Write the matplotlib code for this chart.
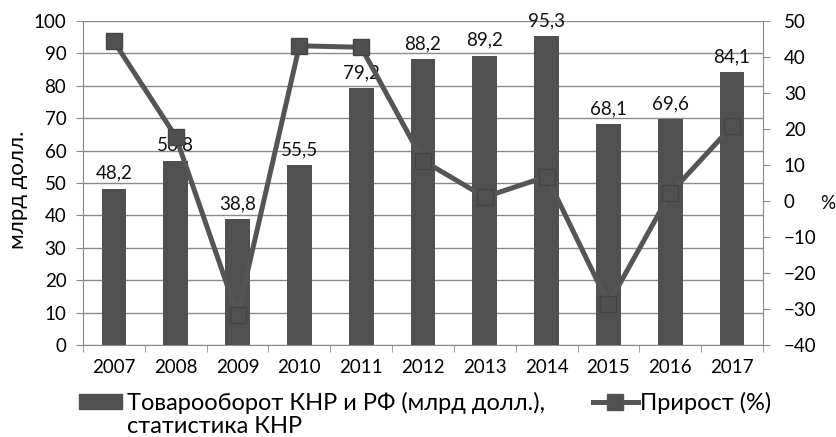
import numpy as np
import matplotlib
matplotlib.use("Agg")
import matplotlib.pyplot as plt
from matplotlib.lines import Line2D
from matplotlib.patches import Patch

years = ["2007", "2008", "2009", "2010", "2011", "2012", "2013", "2014", "2015", "2016", "2017"]
trade = [48.2, 56.8, 38.8, 55.5, 79.2, 88.2, 89.2, 95.3, 68.1, 69.6, 84.1]
growth = [44.3, 17.9, -31.7, 43.1, 42.7, 11.2, 1.1, 6.8, -28.6, 2.2, 20.8]

bar_label = ["Товарооборот КНР и РФ (млрд долл.),", "статистика КНР"]
line_label = "Прирост (%)"

plt.rcParams['font.family'] = ['Lato', 'DejaVu Sans']
fs = 13.5
lfs = 17
dark = "#505050"
grid_c = "#8a8a8a"

fig = plt.figure(figsize=(8.37, 4.37), dpi=100)
ax = fig.add_axes([0.0992, 0.2105, 0.8124, 0.7415])
x = np.arange(len(years))

ax.set_axisbelow(True)
ax.bar(x, trade, width=0.4, color=dark, zorder=2)
for xi, v in zip(x, trade):
    ax.text(xi, v + 2.2, f"{v:.1f}".replace(".", ","), ha="center", va="bottom",
            fontsize=fs, color="#111111", zorder=5)

ax.set_ylim(0, 100)
ax.set_yticks(np.arange(0, 101, 10))
ax.set_xlim(-0.5, len(years) - 0.5)
ax.set_xticks(x)
ax.set_xticklabels(years)
ax.set_xticks(np.arange(-0.5, len(years), 1), minor=True)
ax.tick_params(axis="x", which="major", length=0, labelsize=fs, pad=10)
ax.tick_params(axis="x", which="minor", length=5, color=grid_c, direction="out")
ax.tick_params(axis="y", length=5, color=grid_c, labelsize=fs, pad=7)
ax.yaxis.grid(True, color=grid_c, linewidth=1)
for s in ["top", "right"]:
    ax.spines[s].set_visible(False)
ax.spines["left"].set_color(grid_c)
ax.spines["bottom"].set_color(grid_c)
ax.set_ylabel("млрд долл.", fontsize=16)
ax.yaxis.set_label_coords(-0.081, 0.48)

ax2 = ax.twinx()
ax2.plot(x, growth, color="#555555", linewidth=3.6, marker="s", markersize=12,
         markerfacecolor="#505050", markeredgecolor="#444444", zorder=4)
ax2.set_ylim(-40, 50)
ax2.set_yticks(np.arange(-40, 51, 10))
ax2.tick_params(axis="y", length=5, color=grid_c, labelsize=fs, pad=10)
for s in ["top", "left", "bottom"]:
    ax2.spines[s].set_visible(False)
ax2.spines["right"].set_color(grid_c)
fig.text(0.989, 0.535, "%", fontsize=fs, ha="center", va="center")

# legend, drawn as two pieces so the bar swatch sits on the first text line
leg1 = fig.legend([Patch(facecolor=dark, edgecolor=dark)], [bar_label[0]],
                  loc="center left", bbox_to_anchor=(0.0944, 0.078), frameon=False,
                  fontsize=lfs, handlelength=1.82, handleheight=0.55, handletextpad=0.2,
                  borderpad=0, borderaxespad=0)
fig.text(0.1517, 0.023, bar_label[1], fontsize=lfs, ha="left", va="center")
leg2 = fig.legend([Line2D([0], [0], color="#555555", linewidth=3.6, marker="s", markersize=11,
                          markerfacecolor="#505050")], [line_label],
                  loc="center left", bbox_to_anchor=(0.7085, 0.078), frameon=False,
                  fontsize=lfs, handlelength=1.9, handletextpad=0.1,
                  borderpad=0, borderaxespad=0)

fig.savefig("out.png", dpi=100)
